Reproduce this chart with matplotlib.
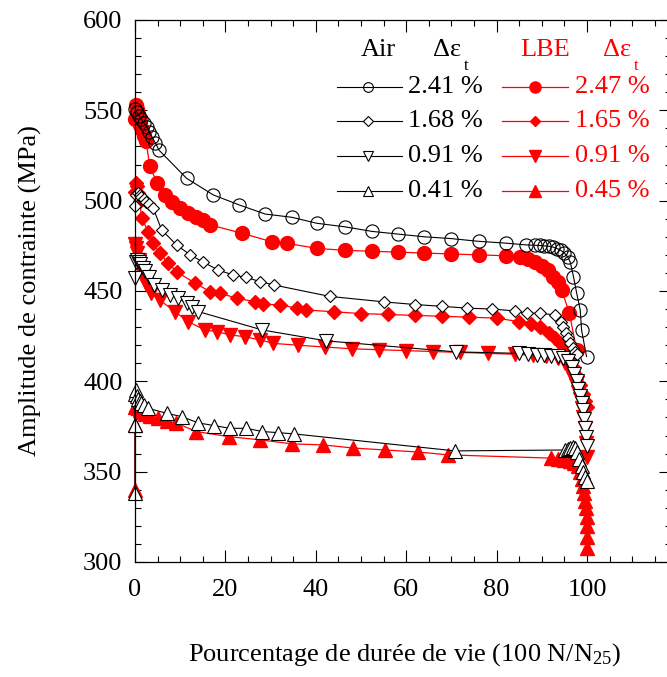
import matplotlib
matplotlib.use("Agg")
import matplotlib.pyplot as plt
from matplotlib.lines import Line2D
from matplotlib.ticker import MultipleLocator

plt.rcParams['font.family'] = ['Liberation Serif', 'DejaVu Serif']
plt.rcParams['mathtext.fontset'] = 'custom'
plt.rcParams['mathtext.rm'] = 'Liberation Serif'
plt.rcParams['mathtext.it'] = 'Liberation Serif:italic'

# ---- data (life fraction %, stress amplitude MPa) ----
air241_x = [0, 0.4, 0.9, 1.4, 2.0, 2.6, 3.2, 3.8, 4.5, 5.3, 11.4, 17.3, 23.1, 28.8, 34.7, 40.2,
            46.5, 52.4, 58.2, 64.0, 70.0, 76.0, 82.0, 86.6, 88.5, 89.5, 90.5, 91.5, 92.5, 93.4,
            94.2, 95.0, 95.7, 96.3, 97.0, 97.7, 98.5, 98.8, 99.9]
air241_y = [551, 549, 547, 545, 543, 541, 538, 535, 532, 528, 512.4, 503.2, 497.6, 492.6, 490.8, 487.5,
            485.5, 483, 481.5, 480, 479, 477.5, 476.5, 475.5, 475.3, 475.2, 475, 474.8, 474.3, 473.5,
            472.5, 471, 469, 466, 458, 449, 439.5, 428.4, 413.7]

lbe247_x = [0, 0.2, 0.4, 0.6, 0.9, 1.2, 1.5, 1.9, 2.4, 3.3, 4.9, 6.6, 8.1, 10, 11.8, 13.6, 15.1, 16.6,
            23.6, 30.2, 33.6, 40.2, 46.5, 52.4, 58.2, 64, 70, 76, 82, 85.2, 87, 88.5, 90, 91.3, 92.5,
            93.5, 94.4, 96.1, 97.7]
lbe247_y = [545, 553, 551, 548, 545, 542, 539, 536, 533, 519, 509.6, 503.2, 499.5, 495.8, 493, 491.1,
            489.3, 486.6, 482, 477.3, 476.4, 473.6, 472.5, 472, 471.5, 471, 470.5, 470, 469.5, 469,
            467.5, 466, 464, 461.5, 458, 455, 450.6, 437.7, 417.4]

air168_x = [0, 0.3, 0.6, 1.0, 1.4, 1.9, 2.5, 3.2, 4.0, 5.9, 9.2, 12.2, 15.1, 18.4, 21.7, 24.6, 27.7,
            30.8, 43.1, 55, 62, 68, 73.5, 79, 84, 86.7, 89.6, 92.9, 94.2, 94.8, 95.3, 95.8, 96.3,
            96.8, 97.3, 97.8]
air168_y = [497, 503, 504, 503, 502, 501, 499.5, 498, 496, 483.8, 475.5, 470, 466, 461.6, 458.9, 457.5,
            455.2, 453.3, 447, 444, 442.5, 441.5, 440.5, 440, 439, 437.7, 437.7, 436.7, 433, 430,
            427, 424, 421, 418.5, 416.5, 415]

lbe165_x = [0, 0.2, 0.4, 0.7, 1.0, 1.5, 2.9, 4.0, 5.5, 7.4, 9.2, 13.3, 16.6, 18.8, 22.5, 26.5, 28.4,
            32.1, 35.8, 37.9, 44, 50, 56, 62, 68, 74, 80, 85, 87.5, 89.6, 91.5, 93.0, 94.0, 95.0,
            96.0, 97.0, 97.8, 98.5, 99.1, 99.6, 100]
lbe165_y = [505, 510, 508, 504, 500, 490.3, 482.9, 476.3, 470.8, 465.4, 460.7, 454.3, 449.7, 448.8,
            446, 444.1, 442.7, 442.3, 440.5, 439.5, 438.5, 437.5, 437, 436.5, 436, 435.5, 435, 433,
            431.5, 430, 427, 424, 421, 417.5, 413, 408, 403, 398, 393, 389, 386]

air091_x = [0, 0.2, 0.5, 0.8, 1.2, 1.7, 2.3, 3.0, 4.1, 5.9, 7.7, 9.6, 11.4, 12.5, 14.0, 28.2, 42.3,
            71.0, 85, 87, 89, 90.5, 92, 93.5, 94.7, 95.8, 96.6, 97.2, 97.7, 98.1, 98.5, 98.8, 99.1,
            99.4, 99.6, 99.8, 100]
air091_y = [457, 466, 467, 466, 465, 463, 461, 458, 453.3, 450.6, 447.8, 446, 443.2, 441.3, 438.6,
            428.4, 422.4, 416.3, 415.5, 415, 414.7, 414.5, 414.2, 413.8, 413, 411, 408, 404, 400,
            396, 392, 388, 384, 379, 374, 369, 364]

lbe091_x = [0, 0.2, 0.5, 0.8, 1.2, 1.7, 2.5, 3.5, 5.5, 8.8, 11.8, 15.5, 18.1, 21.0, 24.3, 27.7, 30.6,
            36, 42, 48, 54, 60, 66, 72, 78, 84, 88, 91, 93.5, 95.2, 96.3, 97.0, 97.6, 98.1, 98.5,
            98.9, 99.2, 99.5, 99.8, 100]
lbe091_y = [476, 474, 471, 467, 463, 459, 454, 449, 445, 438.6, 433, 428.4, 427.5, 425.7, 424.7,
            422.9, 421, 420, 419, 418, 417.5, 417, 416.5, 416, 415.5, 415, 414.5, 414, 413, 410,
            406, 402, 398, 394, 390, 385, 380, 374, 366, 358]

air041_x = [0, 0, 0, 0.2, 0.4, 0.7, 1.0, 1.4, 1.9, 2.9, 7.0, 10.3, 14.0, 17.5, 21.0, 24.6, 28.2,
            31.7, 35.2, 70.8, 95.2, 95.8, 96.3, 96.8, 97.3, 97.8, 98.3, 98.8, 99.2, 99.6, 100]
air041_y = [338.3, 375.9, 393, 395, 392, 390, 389, 388, 387, 385.1, 382.3, 380.5, 377, 375.5, 374,
            374, 372.2, 371.6, 370.9, 361.5, 362, 362.5, 363, 363.5, 363, 361, 357, 353, 350, 347, 345]

lbe045_x = [0, 0, 0, 0.2, 0.4, 0.7, 1.0, 1.5, 2.2, 3.3, 5, 7, 9, 13.6, 20.7, 27.7, 34.7, 41.6, 48.2,
            55.3, 62.6, 69.2, 92, 93.5, 95, 96.2, 97.2, 97.9, 98.4, 98.8, 99.1, 99.4, 99.6, 99.8,
            99.9, 100, 100, 100]
lbe045_y = [340, 376, 386, 387, 386, 385, 384, 383, 382, 381, 379.5, 378, 377, 372.2, 369.4, 367.6,
            365.4, 364.8, 363.1, 362, 360.9, 359.3, 357.5, 357, 356.5, 356, 355, 353, 350, 346, 342,
            338, 334, 330, 325, 320, 314, 308]

air_labels = ['2.41 %', '1.68 %', '0.91 %', '0.41 %']
lbe_labels = ['2.47 %', '1.65 %', '0.91 %', '0.45 %']

RED = '#ff0000'
FS = 19

W, H = 667, 677
fig = plt.figure(figsize=(W / 100, H / 100), dpi=100)
x0, x1 = 135, 135 + 118.5 * 4.52
y0, y1 = 562, 20
ax = fig.add_axes([x0 / W, (H - y0) / H, (x1 - x0) / W, (y0 - y1) / H])

# LBE first (red) then air on top
ax.plot(lbe247_x, lbe247_y, '-o', color=RED, mfc=RED, mec=RED, ms=10, lw=0.9, clip_on=False)
ax.plot(lbe165_x, lbe165_y, '-D', color=RED, mfc=RED, mec=RED, ms=7, lw=0.9, clip_on=False)
ax.plot(lbe091_x, lbe091_y, '-v', color=RED, mfc=RED, mec=RED, ms=9.5, lw=0.9, clip_on=False)
ax.plot(lbe045_x, lbe045_y, '-^', color=RED, mfc=RED, mec=RED, ms=9.5, lw=0.9, clip_on=False)

ax.plot(air241_x, air241_y, '-o', color='black', mfc='none', mec='black', ms=9.5, lw=0.8, mew=0.8,
        clip_on=False)
ax.plot(air168_x, air168_y, '-D', color='black', mfc='white', mec='black', ms=6.5, lw=0.8, mew=0.8,
        clip_on=False)
ax.plot(air091_x, air091_y, '-v', color='black', mfc='white', mec='black', ms=9.5, lw=0.8, mew=0.8,
        clip_on=False)
ax.plot(air041_x, air041_y, '-^', color='black', mfc='white', mec='black', ms=9.5, lw=0.8, mew=0.8,
        clip_on=False)

ax.set_xlim(0, 118.5)
ax.set_ylim(300, 600)
ax.xaxis.set_major_locator(MultipleLocator(20))
ax.xaxis.set_minor_locator(MultipleLocator(5))
ax.yaxis.set_major_locator(MultipleLocator(50))
ax.yaxis.set_minor_locator(MultipleLocator(10))
ax.tick_params(which='both', direction='in', top=True, right=True, labelsize=FS, width=0.8)
ax.tick_params(which='major', length=8.5)
ax.tick_params(which='minor', length=4.3)
ax.tick_params(axis='x', pad=12)
ax.tick_params(axis='y', pad=9)
for s in ax.spines.values():
    s.set_linewidth(0.9)

fig.text(30 / W, 1 - 291 / H, 'Amplitude de contrainte (MPa)', rotation=90, fontsize=FS,
         ha='center', va='center')
fig.text(405 / W, 1 - 655 / H, r'Pourcentage de durée de vie (100 N/N$_{\mathrm{25}}$)', fontsize=FS,
         ha='center', va='center')

# ---- custom legend ----
def fx(px):
    return px / W

def fy(py):
    return 1 - py / H

fig.text(fx(378), fy(50), 'Air', fontsize=FS, ha='center', va='center')
fig.text(fx(433), fy(50), 'Δε', fontsize=FS, ha='left', va='center')
fig.text(fx(464), fy(66), 't', fontsize=FS * 0.62, ha='left', va='center')
fig.text(fx(545), fy(50), 'LBE', fontsize=FS, ha='center', va='center', color=RED)
fig.text(fx(603), fy(50), 'Δε', fontsize=FS, ha='left', va='center', color=RED)
fig.text(fx(634), fy(66), 't', fontsize=FS * 0.62, ha='left', va='center', color=RED)

rows = [87, 121, 156, 191]
air_m = [('o', 'none'), ('D', 'white'), ('v', 'white'), ('^', 'white')]
lbe_m = ['o', 'D', 'v', '^']
air_ms = [7, 5, 7, 7]
lbe_ms = [8, 5.5, 8, 8]
for i, ry in enumerate(rows):
    fig.add_artist(Line2D([fx(337), fx(402)], [fy(ry), fy(ry)], color='black', lw=0.8))
    fig.add_artist(Line2D([fx(368)], [fy(ry)], marker=air_m[i][0], mfc=air_m[i][1], mec='black',
                          ms=air_ms[i], mew=0.8, ls='none'))
    fig.text(fx(408), fy(ry), air_labels[i], fontsize=FS, ha='left', va='center')
    fig.add_artist(Line2D([fx(502), fx(568)], [fy(ry), fy(ry)], color=RED, lw=0.9))
    fig.add_artist(Line2D([fx(535)], [fy(ry)], marker=lbe_m[i], mfc=RED, mec=RED,
                          ms=lbe_ms[i], ls='none'))
    fig.text(fx(575), fy(ry), lbe_labels[i], fontsize=FS, ha='left', va='center', color=RED)

fig.savefig('out.png', dpi=100)
